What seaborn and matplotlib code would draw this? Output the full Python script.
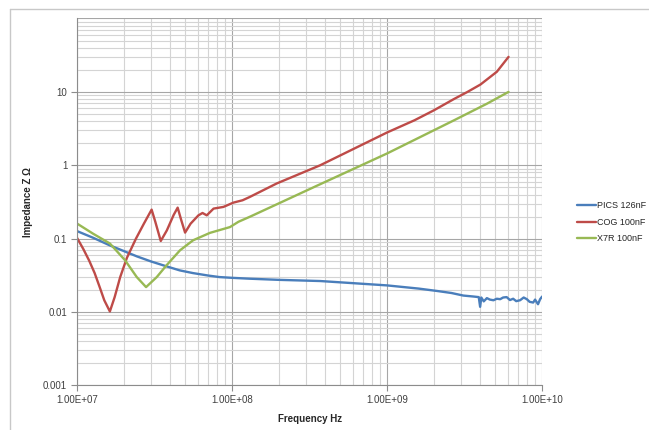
import matplotlib
matplotlib.use("Agg")
import matplotlib.pyplot as plt
from matplotlib.lines import Line2D
from matplotlib.ticker import FixedLocator, FuncFormatter, LogLocator, NullFormatter
import numpy as np
import pandas as pd
import seaborn as sns

# ── Daten ─────────────────────────────────────────────────────────────────
series_names = ["PICS 126nF", "COG 100nF", "X7R 100nF"]

pics_freq = [1.0e7, 1.27e7, 1.63e7, 2.0e7, 2.43e7, 3.0e7, 3.78e7, 4.6e7, 5.6e7,
             7.0e7, 8.3e7, 1.0e8, 1.3e8, 2.0e8, 3.7e8, 6.0e8, 1.0e9, 1.6e9,
             2.1e9, 2.6e9, 3.1e9, 3.6e9, 3.9e9, 3.98e9, 4.05e9, 4.2e9, 4.4e9,
             4.6e9, 4.85e9, 5.1e9, 5.36e9, 5.6e9, 5.9e9, 6.2e9, 6.5e9, 6.8e9,
             7.2e9, 7.6e9, 7.96e9, 8.3e9, 8.75e9, 9.0e9, 9.4e9, 9.7e9, 1.0e10]
pics_z = [0.127, 0.103, 0.081, 0.068, 0.0575, 0.049, 0.042, 0.037, 0.034,
          0.0315, 0.030, 0.0293, 0.0285, 0.0275, 0.0265, 0.0248, 0.0231, 0.0209,
          0.0194, 0.0182, 0.0168, 0.0163, 0.0160, 0.0118, 0.0158, 0.0140, 0.0155,
          0.0148, 0.0145, 0.0152, 0.0150, 0.0158, 0.0160, 0.0146, 0.0152, 0.0141,
          0.0145, 0.0158, 0.0150, 0.0138, 0.0135, 0.0148, 0.0128, 0.0150, 0.0163]

cog_freq = [1.0e7, 1.1e7, 1.2e7, 1.3e7, 1.4e7, 1.5e7, 1.63e7, 1.75e7, 1.9e7,
            2.1e7, 2.4e7, 2.7e7, 3.03e7, 3.2e7, 3.47e7, 3.8e7, 4.2e7, 4.46e7,
            4.7e7, 4.98e7, 5.4e7, 6.07e7, 6.45e7, 6.87e7, 7.6e7, 8.8e7, 1.02e8,
            1.17e8, 1.3e8, 1.94e8, 3.7e8, 1.0e9, 1.5e9, 2.0e9, 2.7e9, 3.3e9,
            4.0e9, 5.1e9, 6.07e9]
cog_z = [0.103, 0.072, 0.050, 0.034, 0.022, 0.0145, 0.0102, 0.016, 0.030,
         0.055, 0.100, 0.160, 0.249, 0.170, 0.093, 0.130, 0.210, 0.265,
         0.180, 0.121, 0.160, 0.208, 0.224, 0.208, 0.257, 0.271, 0.310,
         0.334, 0.370, 0.565, 1.00, 2.80, 4.10, 5.60, 8.00, 10.0,
         12.6, 18.8, 30.0]

x7r_freq = [1.0e7, 1.27e7, 1.63e7, 2.04e7, 2.43e7, 2.79e7, 3.27e7, 3.78e7,
            4.62e7, 5.6e7, 7.2e7, 9.7e7, 1.1e8, 1.31e8, 3.7e8, 1.0e9, 2.7e9,
            4.4e9, 6.07e9]
x7r_z = [0.161, 0.117, 0.086, 0.051, 0.030, 0.0219, 0.030, 0.0434,
         0.0695, 0.095, 0.120, 0.144, 0.170, 0.200, 0.552, 1.45, 4.10,
         6.90, 10.0]

y_ticks = [0.001, 0.01, 0.1, 1, 10, 100]
y_labels = ["0.001", "0.01", "0.1", "1", "10", ""]
x_ticks = [1e7, 1e8, 1e9, 1e10]

farben = {"PICS 126nF": "#4a7ebb", "COG 100nF": "#be4b48", "X7R 100nF": "#98b954"}

df = pd.concat([
    pd.DataFrame({"freq": pics_freq, "z": pics_z, "serie": series_names[0]}),
    pd.DataFrame({"freq": cog_freq, "z": cog_z, "serie": series_names[1]}),
    pd.DataFrame({"freq": x7r_freq, "z": x7r_z, "serie": series_names[2]}),
], ignore_index=True)

# ── Plot ───────────────────────────────────────────────────────────────────
sns.set_style("white")
plt.rcParams["font.family"] = ["Liberation Sans", "DejaVu Sans"]

fig = plt.figure(figsize=(6.49, 4.30), dpi=100)
ax = fig.add_axes([0.1186, 0.1035, 0.8354 - 0.1186, 0.957 - 0.1035])

sns.lineplot(data=df, x="freq", y="z", hue="serie", palette=farben,
             hue_order=series_names, estimator=None, sort=False,
             linewidth=1.7, ax=ax, legend=False)

ax.set_xscale("log")
ax.set_yscale("log")
ax.set_xlim(1e7, 1e10)
ax.set_ylim(1e-3, 100)

ax.xaxis.set_major_locator(FixedLocator(x_ticks))
ax.xaxis.set_major_formatter(FuncFormatter(lambda v, p: f"{v:.2E}"))
ax.xaxis.set_minor_locator(LogLocator(base=10, subs=np.arange(2, 10)))
ax.xaxis.set_minor_formatter(NullFormatter())
ax.yaxis.set_major_locator(FixedLocator(y_ticks))
ax.yaxis.set_major_formatter(FuncFormatter(lambda v, p: y_labels[y_ticks.index(v)] if v in y_ticks else ""))
ax.yaxis.set_minor_locator(LogLocator(base=10, subs=np.arange(2, 10)))
ax.yaxis.set_minor_formatter(NullFormatter())

ax.grid(which="major", color="#a6a6a6", linewidth=0.8)
ax.grid(which="minor", color="#d4d4d4", linewidth=0.8)
ax.set_axisbelow(True)

for s in ["top", "right"]:
    ax.spines[s].set_visible(False)
for s in ["left", "bottom"]:
    ax.spines[s].set_color("#8c8c8c")
    ax.spines[s].set_linewidth(0.8)

ax.tick_params(which="major", length=4, width=0.8, color="#8c8c8c",
               labelsize=7, labelcolor="#404040", pad=3, direction="out",
               left=True, bottom=True)
ax.tick_params(which="minor", length=0)
ax.yaxis.get_major_ticks()[-1].tick1line.set_visible(False)

ax.set_xlabel("Frequency Hz", fontsize=7, fontweight="bold", labelpad=6)
ax.set_ylabel("Impedance Z Ω", fontsize=7, fontweight="bold", labelpad=7)

handles = [Line2D([0], [0], color=farben[n], lw=1.7) for n in series_names]
ax.legend(handles, series_names, loc="center left", bbox_to_anchor=(1.068, 0.445),
          frameon=False, fontsize=6.5, handlelength=2.1, handletextpad=0.1,
          labelspacing=0.85, borderaxespad=0)

# Rahmen des Diagrammbereichs (rechts/unten abgeschnitten)
fig.add_artist(Line2D([10 / 649, 1], [1 - 9 / 430, 1 - 9 / 430], color="#c8c8c8", lw=1))
fig.add_artist(Line2D([10 / 649, 10 / 649], [0, 1 - 9 / 430], color="#c8c8c8", lw=1))

fig.savefig("out.png", dpi=100)
